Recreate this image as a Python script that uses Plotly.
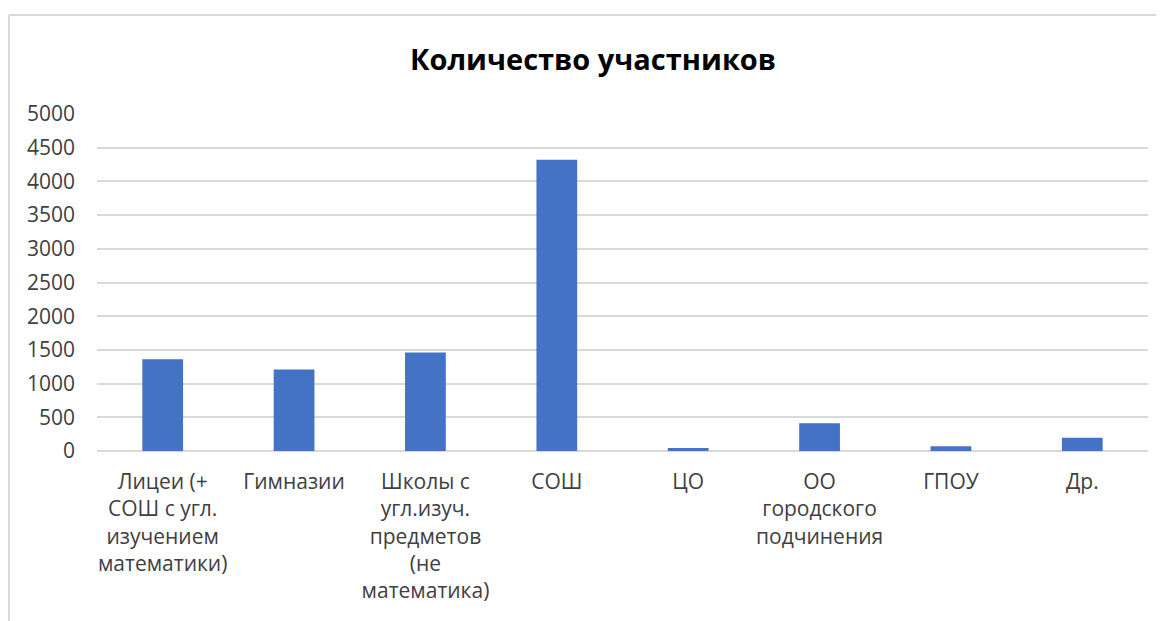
import plotly.graph_objects as go

categories = [
    "Лицеи (+<br>СОШ с угл.<br>изучением<br>математики)",
    "Гимназии",
    "Школы с<br>угл.изуч.<br>предметов<br>(не<br>математика)",
    "СОШ",
    "ЦО",
    "ОО<br>городского<br>подчинения",
    "ГПОУ",
    "Др.",
]
values = [1360, 1210, 1460, 4320, 45, 410, 70, 195]
y_ticks = [0, 500, 1000, 1500, 2000, 2500, 3000, 3500, 4000, 4500, 5000]
title_text = "Количество участников"

W, H = 1164, 621
ML, MR, MT, MB = 89, 24, 106, 178

fig = go.Figure(go.Bar(
    x=categories, y=values,
    marker=dict(color="#4472C4", line=dict(width=0)),
))

fig.update_layout(
    width=W, height=H,
    margin=dict(l=ML, r=MR, t=MT, b=MB),
    paper_bgcolor="white", plot_bgcolor="white",
    bargap=0.69,
    showlegend=False,
    font=dict(family="Open Sans, sans-serif", size=21, color="#404040"),
    title=dict(text="<b>" + title_text + "</b>", x=585 / W, xanchor="center",
               y=1 - 52 / H, yanchor="middle",
               font=dict(family="Open Sans, sans-serif", size=29, color="#000000")),
    xaxis=dict(showgrid=False, showline=False, ticks="", tickangle=0,
               ticklabelstandoff=16,
               tickfont=dict(size=21, color="#404040")),
    yaxis=dict(range=[0, 5000], tickvals=y_ticks, showgrid=True,
               gridcolor="#d9d9d9", gridwidth=1.5, zeroline=True,
               zerolinecolor="#d9d9d9", zerolinewidth=1.5, showline=False,
               ticks="", ticklabelstandoff=21,
               tickfont=dict(size=21, color="#404040")),
)

pw, ph = W - ML - MR, H - MT - MB
bx = (1 - ML) / pw
ty = (H - MB - 7) / ph
fig.add_shape(type="line", xref="paper", yref="paper",
              x0=bx, x1=bx, y0=-MB / ph, y1=ty,
              line=dict(color="#d9d9d9", width=2))
fig.add_shape(type="line", xref="paper", yref="paper",
              x0=bx, x1=(W - ML) / pw, y0=ty, y1=ty,
              line=dict(color="#d9d9d9", width=2))

fig.write_html("out.html")
